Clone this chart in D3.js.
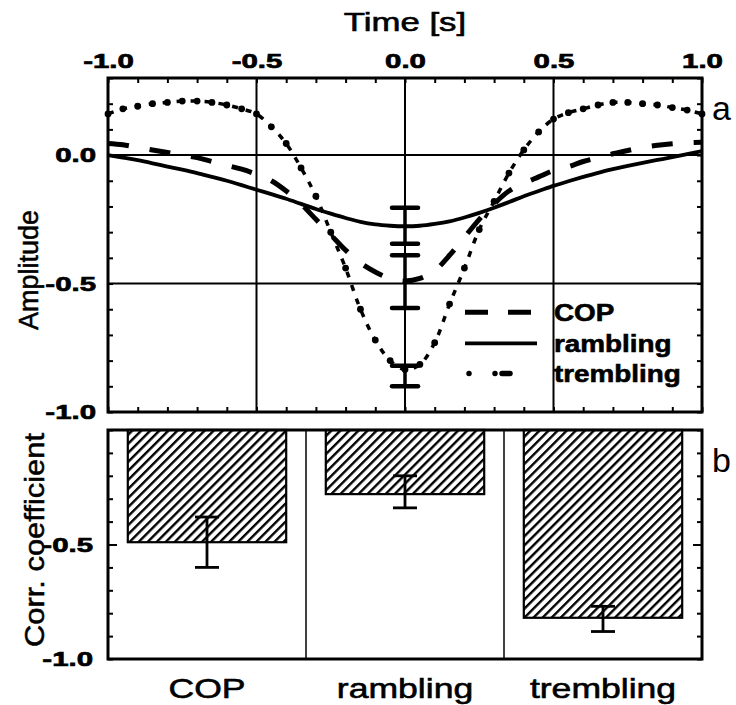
<!DOCTYPE html>
<html><head><meta charset="utf-8">
<script src="https://cdn.jsdelivr.net/npm/d3@7"></script>
<style>
body{margin:0;background:#fff}
svg{display:block}
text{font-family:"Liberation Sans",Arial,sans-serif;fill:#000}
</style>
</head><body>
<svg id="chart" width="736" height="705"></svg>
<script>
// ---------- data ----------
const timeS = [-1.00,-0.95,-0.90,-0.85,-0.80,-0.75,-0.70,-0.65,-0.60,-0.55,-0.50,-0.45,-0.40,-0.35,-0.30,-0.25,-0.20,-0.15,-0.10,-0.05,0.00,0.05,0.10,0.15,0.20,0.25,0.30,0.35,0.40,0.45,0.50,0.55,0.60,0.65,0.70,0.75,0.80,0.85,0.90,0.95,1.00];
const copAmp = [0.045,0.04,0.03,0.02,0.01,0.0,-0.01,-0.025,-0.04,-0.055,-0.075,-0.10,-0.14,-0.19,-0.25,-0.31,-0.37,-0.42,-0.455,-0.48,-0.49,-0.48,-0.45,-0.39,-0.32,-0.25,-0.19,-0.14,-0.11,-0.085,-0.06,-0.045,-0.025,-0.01,0.005,0.018,0.03,0.038,0.044,0.048,0.05];
const ramblingAmp = [0.0,-0.01,-0.02,-0.032,-0.045,-0.057,-0.07,-0.085,-0.10,-0.117,-0.135,-0.152,-0.17,-0.19,-0.21,-0.228,-0.245,-0.26,-0.27,-0.275,-0.277,-0.275,-0.268,-0.258,-0.243,-0.225,-0.205,-0.183,-0.16,-0.14,-0.12,-0.102,-0.085,-0.069,-0.055,-0.042,-0.03,-0.019,-0.008,0.004,0.015];
const tremblingAmp = [0.16,0.18,0.19,0.20,0.205,0.21,0.21,0.205,0.195,0.18,0.16,0.11,0.045,-0.05,-0.16,-0.30,-0.44,-0.60,-0.72,-0.80,-0.835,-0.815,-0.73,-0.58,-0.44,-0.29,-0.18,-0.07,0.02,0.09,0.14,0.165,0.18,0.195,0.205,0.205,0.20,0.195,0.185,0.175,0.16];
const seriesNames = ["COP","rambling","trembling"];
// error bars at t = 0 in panel a (COP, rambling, trembling)
const errTime = 0;
const errTopA = [-0.39,-0.205,-0.82];
const errBottomA = [-0.595,-0.345,-0.90];
// panel b
const barCats = ["COP","rambling","trembling"];
const barVals = [-0.49,-0.28,-0.82];
const barErrHi = [-0.38,-0.20,-0.77];
const barErrLo = [-0.60,-0.34,-0.88];
// tick labels
const xTicksA = [-1,-0.5,0,0.5,1];
const yTicksA = [-1,-0.5,0];
const yTicksB = [-1,-0.5];
const xGridA = [-0.5,0,0.5];
const yGridA = [-0.5,0];

// ---------- layout ----------
const L = 108, R = 702;
const aTop = 78, aBot = 412;
const bTop = 430, bBot = 659;
const svg = d3.select("#chart");
const fmt = d => d.toFixed(1);
function stretch(sel, f){
  sel.each(function(){
    const l = this.getComputedTextLength();
    d3.select(this).attr("textLength", l*f).attr("lengthAdjust","spacingAndGlyphs");
  });
}
function heavy(sel, w){ sel.attr("stroke","#000").attr("stroke-width", w).attr("paint-order","stroke"); }
const minorA_x = d3.range(-10, 11).map(i => i/10);
const minorA_y = d3.range(-10, 4).map(i => i/10);
const minorB_y = d3.range(-10, 1).map(i => i/10);

// ---------- panel a ----------
const x = d3.scaleLinear().domain([-1, 1]).range([L, R]);
const y = d3.scaleLinear().domain([-1, 0.3]).range([aBot, aTop]);
const ga = svg.append("g");

// grid
ga.selectAll("line.gx").data(xGridA).join("line").attr("class","gx")
  .attr("x1", d => x(d)).attr("x2", d => x(d)).attr("y1", aTop).attr("y2", aBot)
  .attr("stroke", "#000").attr("stroke-width", 2);
ga.selectAll("line.gy").data(yGridA).join("line").attr("class","gy")
  .attr("x1", L).attr("x2", R).attr("y1", d => y(d)).attr("y2", d => y(d))
  .attr("stroke", "#000").attr("stroke-width", 2);

// minor ticks (inward)
function minorAxis(g, axis){ g.call(axis); g.select(".domain").remove(); g.selectAll(".tick line").attr("stroke-width", 2); g.selectAll(".tick text").remove(); }
ga.append("g").attr("transform", `translate(0,${aTop})`).call(g => minorAxis(g, d3.axisTop(x).tickValues(minorA_x).tickSize(-5)));
ga.append("g").attr("transform", `translate(0,${aBot})`).call(g => minorAxis(g, d3.axisBottom(x).tickValues(minorA_x).tickSize(-5)));
ga.append("g").attr("transform", `translate(${L},0)`).call(g => minorAxis(g, d3.axisLeft(y).tickValues(minorA_y).tickSize(-5)));
ga.append("g").attr("transform", `translate(${R},0)`).call(g => minorAxis(g, d3.axisRight(y).tickValues(minorA_y).tickSize(-5)));

// labels
const topAx = ga.append("g").attr("transform", `translate(0,${aTop})`)
  .call(d3.axisTop(x).tickValues(xTicksA).tickSize(0).tickPadding(10).tickFormat(fmt));
topAx.select(".domain").remove();
topAx.selectAll("text").attr("font-size", 21).attr("font-weight", "bold").attr("font-family", null);
stretch(topAx.selectAll("text"), 1.4);
heavy(topAx.selectAll("text"), 0.7);

const leftAx = ga.append("g").attr("transform", `translate(${L},0)`)
  .call(d3.axisLeft(y).tickValues(yTicksA).tickSize(0).tickPadding(12).tickFormat(fmt));
leftAx.select(".domain").remove();
leftAx.selectAll("text").attr("font-size", 21).attr("font-weight", "bold").attr("font-family", null);
stretch(leftAx.selectAll("text"), 1.4);
heavy(leftAx.selectAll("text"), 0.7);

// curves
const lineGen = vals => d3.line().x((d,i) => x(timeS[i])).y(d => y(d)).curve(d3.curveCatmullRom)(vals);
ga.append("path").attr("d", lineGen(ramblingAmp)).attr("fill","none").attr("stroke","#000").attr("stroke-width",3.8);
ga.append("path").attr("d", lineGen(copAmp)).attr("fill","none").attr("stroke","#000").attr("stroke-width",5).attr("stroke-dasharray","21 21");
ga.append("path").attr("d", lineGen(tremblingAmp)).attr("fill","none").attr("stroke","#000").attr("stroke-width",3.5).attr("stroke-dasharray","6 8");
ga.selectAll("circle.tr").data(tremblingAmp).join("circle").attr("class","tr")
  .attr("cx", (d,i) => x(timeS[i])).attr("cy", d => y(d)).attr("r", 3.4).attr("fill","#000");

// error bars at t=0
const capA = 13;
seriesNames.forEach((s, i) => {
  const cx = x(errTime);
  ga.append("line").attr("x1",cx).attr("x2",cx).attr("y1",y(errTopA[i])).attr("y2",y(errBottomA[i])).attr("stroke","#000").attr("stroke-width",3.5);
  [errTopA[i], errBottomA[i]].forEach(v => {
    ga.append("line").attr("x1",cx-capA).attr("x2",cx+capA).attr("y1",y(v)).attr("y2",y(v)).attr("stroke","#000").attr("stroke-width",4.5).attr("stroke-linecap","round");
  });
});

// frame
ga.append("rect").attr("x",L).attr("y",aTop).attr("width",R-L).attr("height",aBot-aTop).attr("fill","none").attr("stroke","#000").attr("stroke-width",3);

// legend
const legY = [y(-0.612), y(-0.733), y(-0.85)];
const legX1 = 465, legX2 = 537, legTX = 554;
const lg = ga.append("g");
lg.append("line").attr("x1",legX1).attr("x2",legX2).attr("y1",legY[0]).attr("y2",legY[0]).attr("stroke","#000").attr("stroke-width",5).attr("stroke-dasharray","23 20");
lg.append("line").attr("x1",legX1).attr("x2",legX2).attr("y1",legY[1]).attr("y2",legY[1]).attr("stroke","#000").attr("stroke-width",3.8);
lg.append("line").attr("x1",legX1+4).attr("x2",legX2).attr("y1",legY[2]).attr("y2",legY[2]).attr("stroke","#000").attr("stroke-width",5.5).attr("stroke-linecap","round").attr("stroke-dasharray","0 26 0 7 8 27");
const legT = lg.selectAll("text").data(seriesNames).join("text")
  .attr("x", legTX).attr("y", (d,i) => legY[i]).attr("dy","0.35em")
  .attr("font-size", 24).attr("font-weight","bold").text(d => d);
stretch(legT, 1.16);
heavy(legT, 0.6);

// titles
const tt = svg.append("text").attr("x", (L+R)/2).attr("y", 31).attr("text-anchor","middle").attr("font-size", 25).text("Time [s]");
stretch(tt, 1.39);
heavy(tt, 0.6);
const amp = svg.append("text").attr("transform","translate(38,270) rotate(-90)").attr("text-anchor","middle").attr("font-size",27)
  .attr("textLength",120).attr("lengthAdjust","spacingAndGlyphs").text("Amplitude");
heavy(amp, 0.5);
svg.append("text").attr("x",712).attr("y",120).attr("font-size",34).text("a");

// ---------- panel b ----------
const xb = d3.scaleBand().domain(barCats).range([L, R]).paddingInner(0.2).paddingOuter(0.1);
const yb = d3.scaleLinear().domain([-1, 0]).range([bBot, bTop]);
const gb = svg.append("g");

const defs = svg.append("defs");
const pat = defs.append("pattern").attr("id","hatch").attr("patternUnits","userSpaceOnUse")
  .attr("width",6.4).attr("height",6.4).attr("patternTransform","rotate(45)");
pat.append("rect").attr("width",6.4).attr("height",6.4).attr("fill","#fff");
pat.append("rect").attr("x",0).attr("y",0).attr("width",2.4).attr("height",6.4).attr("fill","#000");

// separators
const step = xb.step();
gb.selectAll("line.sep").data(barCats.slice(1)).join("line").attr("class","sep")
  .attr("x1", d => xb(d) - step*xb.paddingInner()/2).attr("x2", d => xb(d) - step*xb.paddingInner()/2)
  .attr("y1", bTop).attr("y2", bBot).attr("stroke","#000").attr("stroke-width",1.5);

// bars
gb.selectAll("rect.bar").data(barVals).join("rect").attr("class","bar")
  .attr("x", (d,i) => xb(barCats[i])).attr("width", xb.bandwidth())
  .attr("y", yb(0)).attr("height", d => yb(d) - yb(0))
  .attr("fill","url(#hatch)").attr("stroke","#000").attr("stroke-width",2.2);

// error bars
const capB = 12;
barCats.forEach((c, i) => {
  const cx = xb(c) + xb.bandwidth()/2;
  gb.append("line").attr("x1",cx).attr("x2",cx).attr("y1",yb(barErrHi[i])).attr("y2",yb(barErrLo[i])).attr("stroke","#000").attr("stroke-width",2.8);
  [barErrHi[i], barErrLo[i]].forEach(v => {
    gb.append("line").attr("x1",cx-capB).attr("x2",cx+capB).attr("y1",yb(v)).attr("y2",yb(v)).attr("stroke","#000").attr("stroke-width",2.8);
  });
});

// ticks
gb.append("g").attr("transform", `translate(${L},0)`).call(g => minorAxis(g, d3.axisLeft(yb).tickValues(minorB_y).tickSize(-5)));
gb.append("g").attr("transform", `translate(${R},0)`).call(g => minorAxis(g, d3.axisRight(yb).tickValues(minorB_y).tickSize(-5)));
gb.append("g").attr("transform", `translate(${L},0)`).call(g => minorAxis(g, d3.axisLeft(yb).tickValues([-0.5]).tickSize(-9)));
gb.append("g").attr("transform", `translate(${R},0)`).call(g => minorAxis(g, d3.axisRight(yb).tickValues([-0.5]).tickSize(-9)));

const leftB = gb.append("g").attr("transform", `translate(${L},0)`)
  .call(d3.axisLeft(yb).tickValues(yTicksB).tickSize(0).tickPadding(15).tickFormat(fmt));
leftB.select(".domain").remove();
leftB.selectAll("text").attr("font-size", 21).attr("font-weight","bold").attr("font-family", null);
stretch(leftB.selectAll("text"), 1.4);
heavy(leftB.selectAll("text"), 0.7);

const botB = gb.append("g").attr("transform", `translate(0,${bBot})`)
  .call(d3.axisBottom(xb).tickSize(0).tickPadding(19));
botB.select(".domain").remove();
botB.selectAll("text").attr("font-size", 28).attr("font-family", null);
stretch(botB.selectAll("text"), 1.27);
heavy(botB.selectAll("text"), 0.6);

gb.append("rect").attr("x",L).attr("y",bTop).attr("width",R-L).attr("height",bBot-bTop).attr("fill","none").attr("stroke","#000").attr("stroke-width",3);

const corr = svg.append("text").attr("transform","translate(44,540) rotate(-90)").attr("text-anchor","middle").attr("font-size",28)
  .attr("textLength",214).attr("lengthAdjust","spacingAndGlyphs").text("Corr. coefficient");
heavy(corr, 0.5);
svg.append("text").attr("x",712).attr("y",472).attr("font-size",34).text("b");
</script>
</body></html>
